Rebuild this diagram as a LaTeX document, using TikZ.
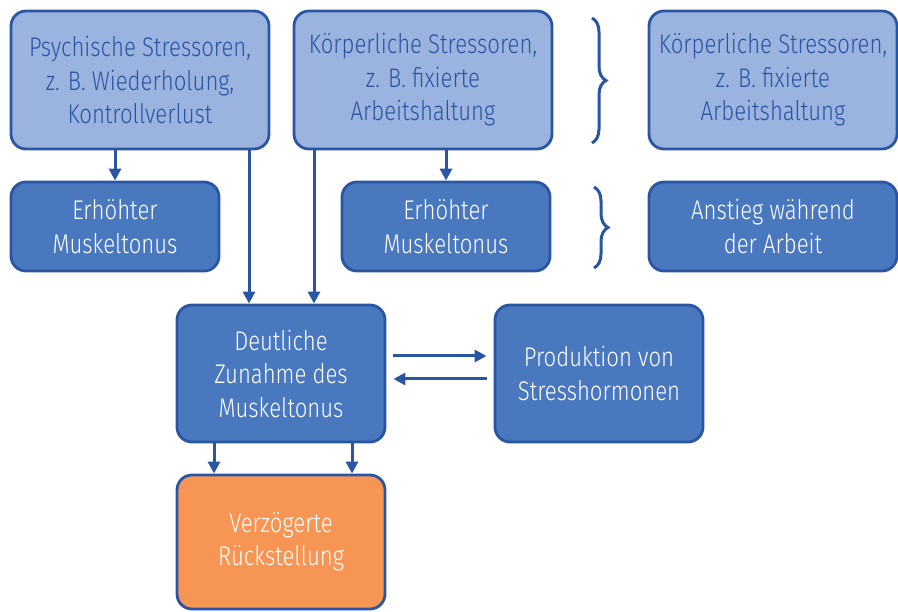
\documentclass[tikz,border=0pt]{standalone}
\usepackage{fontspec}
\setmainfont{Fira Sans}[UprightFont=* Light, FakeStretch=0.82]
\usetikzlibrary{arrows.meta,decorations.pathreplacing}
\definecolor{bord}{HTML}{2A55A2}
\definecolor{lightfill}{HTML}{9BB3DF}
\definecolor{midfill}{HTML}{4A78BE}
\definecolor{orangefill}{HTML}{F79554}
\tikzset{
  box/.style={draw=bord, line width=2.8pt, rounded corners=15pt, align=center,
    font=\fontsize{27}{33.5}\selectfont, inner sep=2pt},
  lightbox/.style={box, fill=lightfill, text=bord},
  darkbox/.style={box, fill=midfill, text=white},
  orangebox/.style={box, fill=orangefill, text=white},
  arr/.style={draw=bord, line width=3pt, -{Triangle[length=12pt,width=12pt]}},
  brc/.style={draw=bord, line width=3pt, decorate, decoration={brace, amplitude=14pt}}
}
\begin{document}
\begin{tikzpicture}[x=1pt,y=-1pt]
\useasboundingbox (0,0) rectangle (898,612);
\node[lightbox, minimum width=258pt, minimum height=138pt] (b1) at (140,80) {Psychische Stressoren,\\z. B. Wiederholung,\\Kontrollverlust};
\node[lightbox, minimum width=258pt, minimum height=138pt] (b2) at (423,80) {Körperliche Stressoren,\\z. B. fixierte\\Arbeitshaltung};
\node[lightbox, minimum width=248pt, minimum height=138pt] (b3) at (773,80) {Körperliche Stressoren,\\z. B. fixierte\\Arbeitshaltung};
\node[darkbox, minimum width=208pt, minimum height=89pt] (b4) at (115,226.5) {Erhöhter\\Muskeltonus};
\node[darkbox, minimum width=208pt, minimum height=89pt] (b5) at (446,226.5) {Erhöhter\\Muskeltonus};
\node[darkbox, minimum width=248pt, minimum height=89pt] (b6) at (773,226.5) {Anstieg während\\der Arbeit};
\node[darkbox, minimum width=208pt, minimum height=137pt] (d) at (281,373.5) {Deutliche\\Zunahme des\\Muskeltonus};
\node[darkbox, minimum width=208pt, minimum height=137pt] (p) at (599,373.5) {Produktion von\\Stresshormonen};
\node[orangebox, minimum width=208pt, minimum height=134pt] (o) at (281,542) {Verzögerte\\Rückstellung};
\coordinate (br1t) at (592,18);
\coordinate (br1b) at (592,143);
\coordinate (br2t) at (594,187);
\coordinate (br2b) at (594,268);
\draw[brc] (br1t) -- (br1b);
\draw[brc] (br2t) -- (br2b);
\draw[arr] (b4.north |- b1.south) -- (b4.north);
\draw[arr] (b5.north |- b2.south) -- (b5.north);
\draw[arr] ([xshift=-32pt]d.north |- b1.south) -- ([xshift=-32pt]d.north);
\draw[arr] ([xshift=33pt]d.north |- b2.south) -- ([xshift=33pt]d.north);
\draw[arr] ([xshift=-67pt]d.south) -- ([xshift=-67pt]o.north);
\draw[arr] ([xshift=71pt]d.south) -- ([xshift=71pt]o.north);
\draw[arr] ([xshift=7pt,yshift=17.5pt]d.east) -- ([xshift=-7pt,yshift=17.5pt]p.west);
\draw[arr] ([xshift=-7pt,yshift=-5.5pt]p.west) -- ([xshift=7pt,yshift=-5.5pt]d.east);
\end{tikzpicture}
\end{document}
